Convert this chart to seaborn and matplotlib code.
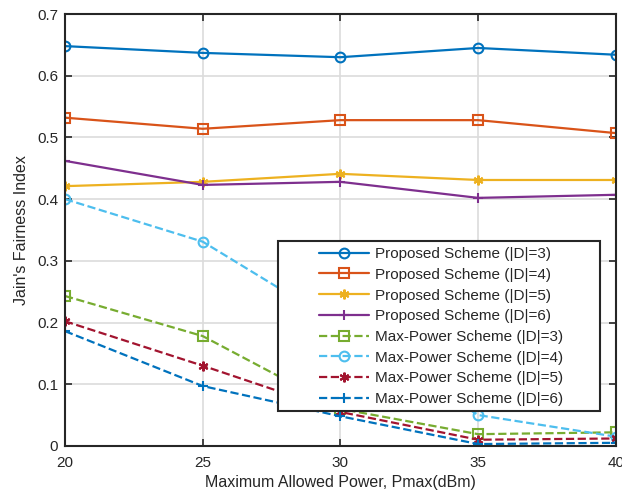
import matplotlib
matplotlib.use("Agg")
import matplotlib.pyplot as plt
from matplotlib.patches import Rectangle
import seaborn as sns
import pandas as pd

sns.set_theme(style="whitegrid")
plt.rcParams['font.family'] = ['Liberation Sans', 'DejaVu Sans']

pmax = [20, 25, 30, 35, 40]
prop_d3 = [0.648, 0.637, 0.630, 0.645, 0.634]
prop_d4 = [0.532, 0.514, 0.528, 0.528, 0.507]
prop_d5 = [0.421, 0.428, 0.441, 0.431, 0.431]
prop_d6 = [0.462, 0.423, 0.428, 0.402, 0.407]
maxp_d3 = [0.243, 0.178, 0.060, 0.019, 0.022]
maxp_d4 = [0.400, 0.331, 0.195, 0.050, 0.015]
maxp_d5 = [0.202, 0.130, 0.055, 0.010, 0.012]
maxp_d6 = [0.186, 0.097, 0.048, 0.003, 0.005]

labels = ["Proposed Scheme (|D|=3)", "Proposed Scheme (|D|=4)",
          "Proposed Scheme (|D|=5)", "Proposed Scheme (|D|=6)",
          "Max-Power Scheme (|D|=3)", "Max-Power Scheme (|D|=4)",
          "Max-Power Scheme (|D|=5)", "Max-Power Scheme (|D|=6)"]
series = [prop_d3, prop_d4, prop_d5, prop_d6, maxp_d3, maxp_d4, maxp_d5, maxp_d6]
colors = ["#0072BD", "#D95319", "#EDB120", "#7E2F8E",
          "#77AC30", "#4DBEEE", "#A2142F", "#0072BD"]
markers = ["o", "s", (6, 2, 0), "+", "s", "o", (6, 2, 0), "+"]
styles = ["-", "-", "-", "-", "--", "--", "--", "--"]

fig = plt.figure(figsize=(6.22, 5.01), dpi=100)
ax = fig.add_axes([0.1045, 0.110, 0.8855, 0.862])

for lab, ys, c, m, ls in zip(labels, series, colors, markers, styles):
    df = pd.DataFrame({"x": pmax, "y": ys})
    sns.lineplot(data=df, x="x", y="y", ax=ax, color=c, marker=m, linestyle=ls,
                 linewidth=1.6, markersize=7, markerfacecolor='none' if m in ("o", "s") else c,
                 markeredgecolor=c, markeredgewidth=1.5, label=lab)

ax.set_xlim(20, 40)
ax.set_ylim(0, 0.7)
ax.set_xticks(pmax)
ax.set_yticks([0, 0.1, 0.2, 0.3, 0.4, 0.5, 0.6, 0.7])
ax.set_yticklabels(["0", "0.1", "0.2", "0.3", "0.4", "0.5", "0.6", "0.7"])
ax.grid(True, color="#dcdcdc", linewidth=1.2)
ax.set_facecolor("white")
for s in ax.spines.values():
    s.set_color("#262626")
    s.set_linewidth(1.5)
ax.tick_params(axis='both', direction='in', length=5, width=1.2, colors="#262626",
               labelsize=11, top=True, right=True, bottom=True, left=True)
ax.tick_params(axis='x', pad=7)
ax.tick_params(axis='y', pad=5)
ax.set_xlabel("Maximum Allowed Power, Pmax(dBm)", fontsize=11.5, color="#262626", labelpad=4)
ax.set_ylabel("Jain's Fairness Index", fontsize=11.5, color="#262626", labelpad=6)

# legend frame (MATLAB-style wide padding)
frame = Rectangle((0.3866, 0.081), 0.971 - 0.3866, 0.4745 - 0.081, transform=ax.transAxes,
                  facecolor="white", edgecolor="#262626", linewidth=1.5, zorder=4.5)
ax.add_patch(frame)

leg = ax.legend(loc="upper left", bbox_to_anchor=(0.452, 0.471), fontsize=11,
                frameon=False, handlelength=3.3, borderpad=0.3, borderaxespad=0,
                labelspacing=0.44, handletextpad=0.4)
leg.set_zorder(5)

fig.savefig("out.png", dpi=100)
